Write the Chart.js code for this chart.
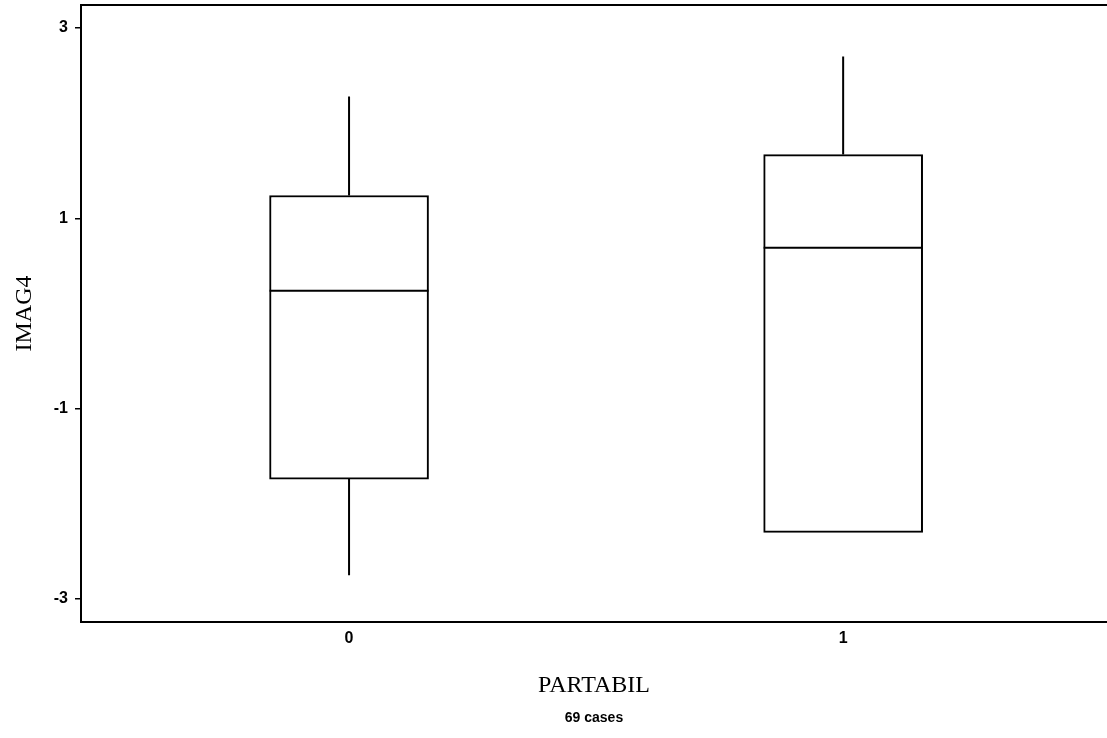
<!DOCTYPE html>
<html lang="en">
<head>
<meta charset="UTF-8">
<title>IMAG4 by PARTABIL</title>
<script src="https://cdn.jsdelivr.net/npm/chart.js"></script>
<style>
  html, body { margin: 0; padding: 0; background: #fff; }
  #wrap { width: 1107px; height: 738px; }
</style>
</head>
<body>
<div id="wrap"><canvas id="boxChart"></canvas></div>
<script>
// groups and the five-number summary per group
const groups = ['0', '1'];
const whiskerLow = [-2.75, -2.30];
const quartile1 = [-1.74, -2.30];
const medians = [0.24, 0.69];
const quartile3 = [1.24, 1.67];
const whiskerHigh = [2.28, 2.70];
const yTicks = [3, 1, -1, -3];
const nCases = 69;

// median line, whiskers, top frame and case count
const boxParts = {
    id: 'boxParts',
    afterDatasetsDraw(chart) {
        const ctx = chart.ctx;
        const y = chart.scales.y;
        const bars = chart.getDatasetMeta(0).data;
        ctx.save();
        ctx.strokeStyle = '#000';
        ctx.lineWidth = 2;
        bars.forEach((bar, i) => {
            const half = bar.width / 2;
            const yMed = y.getPixelForValue(medians[i]);
            ctx.beginPath();
            ctx.moveTo(bar.x - half, yMed);
            ctx.lineTo(bar.x + half, yMed);
            ctx.moveTo(bar.x, y.getPixelForValue(quartile3[i]));
            ctx.lineTo(bar.x, y.getPixelForValue(whiskerHigh[i]));
            if (whiskerLow[i] < quartile1[i]) {
                ctx.moveTo(bar.x, y.getPixelForValue(quartile1[i]));
                ctx.lineTo(bar.x, y.getPixelForValue(whiskerLow[i]));
            }
            ctx.stroke();
        });

        const a = chart.chartArea;
        ctx.beginPath();
        ctx.moveTo(a.left, a.top);
        ctx.lineTo(a.right, a.top);
        ctx.stroke();

        ctx.fillStyle = '#000';
        ctx.font = 'bold 14px "Liberation Sans", Arial, sans-serif';
        ctx.textAlign = 'center';
        ctx.textBaseline = 'middle';
        ctx.fillText(nCases + ' cases', (a.left + a.right) / 2, 718);
        ctx.restore();
    }
};

const tickFont = { family: '"Liberation Sans", Arial, sans-serif', size: 16, weight: 'bold' };
const titleFont = { family: '"Liberation Serif", "Times New Roman", serif', size: 24 };

new Chart(document.getElementById('boxChart'), {
    type: 'bar',
    data: {
        datasets: [{
            data: groups.map((g, i) => ({ x: Number(g), y: [quartile1[i], quartile3[i]] })),
            backgroundColor: '#fff',
            borderColor: '#000',
            borderWidth: 2,
            borderSkipped: false,
            barThickness: 159
        }]
    },
    options: {
        responsive: true,
        maintainAspectRatio: false,
        animation: false,
        layout: { padding: { top: 5, right: 0, bottom: 0, left: 0 }, autoPadding: false },
        plugins: { legend: { display: false }, tooltip: { enabled: false } },
        scales: {
            x: {
                type: 'linear',
                offset: false,
                min: -0.5425,
                max: 1.534,
                afterBuildTicks: s => { s.ticks = groups.map(g => ({ value: Number(g) })); },
                afterFit: s => { s.height = 116; s.paddingLeft = 0; s.paddingRight = 0; },
                ticks: {
                    color: '#000',
                    font: tickFont,
                    padding: 7,
                    callback: v => groups[v]
                },
                grid: { display: true, offset: false, drawOnChartArea: false, drawTicks: false },
                border: { display: true, color: '#000', width: 2 },
                title: { display: true, text: 'PARTABIL', color: '#000', font: titleFont, padding: 38 }
            },
            y: {
                min: -3.242,
                max: 3.242,
                afterBuildTicks: s => { s.ticks = yTicks.map(v => ({ value: v })); },
                afterFit: s => { s.width = 81; s.paddingTop = 0; s.paddingBottom = 0; },
                ticks: { color: '#000', font: tickFont, padding: 7 },
                grid: { display: true, drawOnChartArea: false, color: '#000', lineWidth: 1.5, tickLength: 6 },
                border: { display: true, color: '#000', width: 2 },
                title: { display: true, text: 'IMAG4', color: '#000', font: titleFont, padding: 10 }
            }
        }
    },
    plugins: [boxParts]
});
</script>
</body>
</html>
